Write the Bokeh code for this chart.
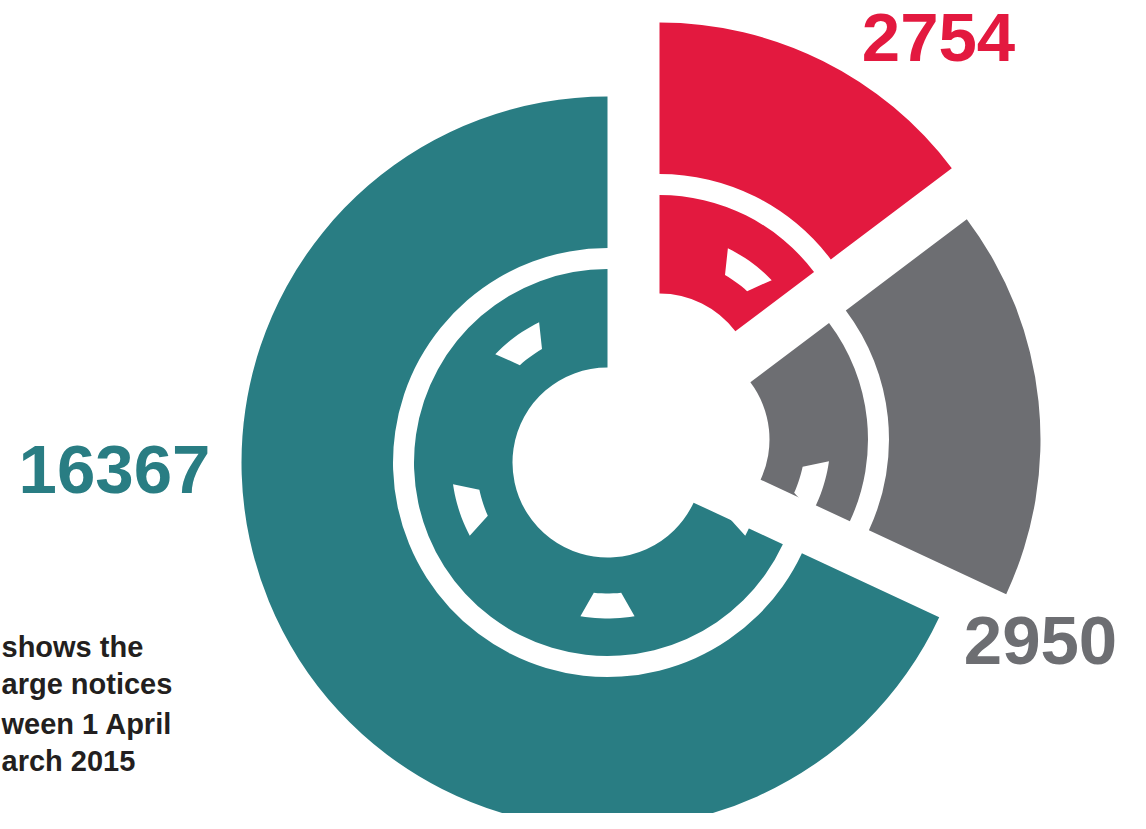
import numpy as np
from bokeh.plotting import figure
from bokeh.models import Range1d, ColumnDataSource
from bokeh.core.properties import value
from bokeh.embed import file_html
from bokeh.resources import INLINE

# ---- data ----
labels = ["2754", "2950", "16367"]
counts = [2754, 2950, 16367]
sweep_deg = [53, 62, 245]          # drawn sweep of each slice, clockwise from 12 o'clock
colors = ["#E3193F", "#6D6E72", "#297D83"]
caption_lines = ["shows the", "arge notices", "ween 1 April", "arch 2015"]

# ---- layout (reference pixel space, y measured upward) ----
H = 829
centers = [(659, H - 388), (674, H - 439), (607, H - 462)]   # exploded slice centres
R_HOLE, R_IN, R_GAP, R_OUT = 95, 193.5, 214.5, 366
TREAD_ANGLES = [270, 198, 126, 54, -18]
TREAD_R0, TREAD_R1, TREAD_HW0, TREAD_HW1 = 131, 156, 6.0, 10.0

LABEL_SIZE = 69
CAP_SIZE = 29
def base(ref_y, size):
    # baseline position (reference pixels) -> data y, with renderer offset compensation
    return H - ref_y + 0.38 * size

label_pos = [(938, base(63, LABEL_SIZE)), (1040, base(666, LABEL_SIZE)), (114, base(495, LABEL_SIZE))]

p = figure(width=1130, height=813, output_backend="svg", toolbar_location=None,
           x_range=Range1d(0, 1130), y_range=Range1d(H - 813, H), min_border=0)
p.axis.visible = False
p.grid.visible = False
p.outline_line_color = None
p.background_fill_color = "white"
p.border_fill_color = "white"

bounds = [90.0]
for s in sweep_deg:
    bounds.append(bounds[-1] - s)

for i in range(len(counts)):
    cx, cy = centers[i]
    a_end, a_start = bounds[i], bounds[i + 1]
    src = ColumnDataSource(dict(x=[cx, cx], y=[cy, cy],
                                r0=[R_HOLE, R_GAP], r1=[R_IN, R_OUT],
                                a0=[np.radians(a_start)] * 2, a1=[np.radians(a_end)] * 2))
    p.annular_wedge(x="x", y="y", inner_radius="r0", outer_radius="r1",
                    start_angle="a0", end_angle="a1", direction="anticlock",
                    source=src, fill_color=colors[i], line_color=None)
    # tread cut-outs belonging to this slice
    xs, ys = [], []
    for t in TREAD_ANGLES:
        tt = t
        while tt < a_start - 20:
            tt += 360
        while tt > a_end + 20:
            tt -= 360
        if a_start - 12 <= tt <= a_end + 12:
            outer = np.radians(np.linspace(tt - TREAD_HW1, tt + TREAD_HW1, 12))
            inner = np.radians(np.linspace(tt + TREAD_HW0, tt - TREAD_HW0, 8))
            px = list(cx + TREAD_R1 * np.cos(outer)) + list(cx + TREAD_R0 * np.cos(inner))
            py = list(cy + TREAD_R1 * np.sin(outer)) + list(cy + TREAD_R0 * np.sin(inner))
            xs.append(px)
            ys.append(py)
    if xs:
        p.patches(xs=xs, ys=ys, fill_color="white", line_color=None)

# value labels
p.text(x=[q[0] for q in label_pos], y=[q[1] for q in label_pos], text=labels,
       text_color=colors, text_font=value("Liberation Sans"), text_font_style="bold",
       text_font_size=f"{LABEL_SIZE}px", text_align="center", text_baseline="alphabetic")

# caption (its beginning lies beyond the left edge in the original)
cap_left = [1, 1, 1, 1]
cap_base = [base(658, CAP_SIZE), base(695, CAP_SIZE), base(735, CAP_SIZE), base(772, CAP_SIZE)]
p.text(x=cap_left, y=cap_base, text=caption_lines, text_color="#231F20",
       text_font=value("Liberation Sans"), text_font_style="bold",
       text_font_size=f"{CAP_SIZE}px", text_align="left", text_baseline="alphabetic")

open("out.html", "w").write(file_html(p, INLINE))
